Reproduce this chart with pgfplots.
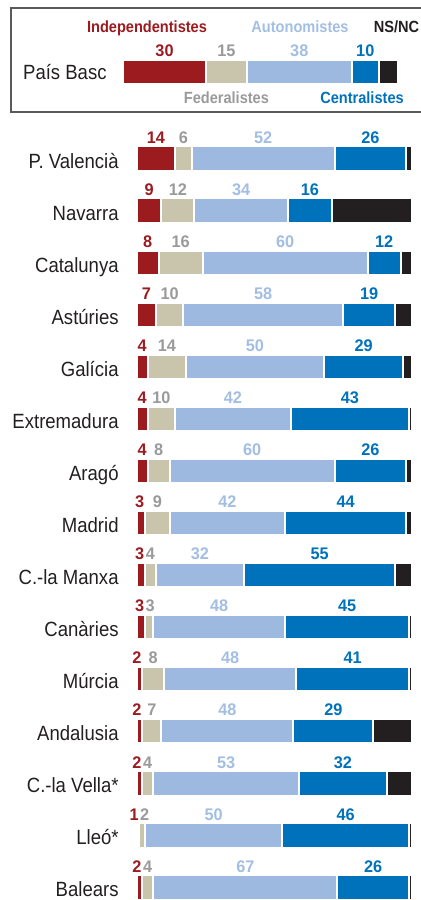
\documentclass[border=0pt]{standalone}
\usepackage{pgfplots}
\pgfplotsset{compat=1.18}
\usepackage{pgfplotstable}
\usepackage{fontspec}
\setmainfont{Liberation Sans}[FakeStretch=0.9]
\newfontfamily\numfont{Liberation Sans}[FakeStretch=0.97]

\definecolor{cInd}{HTML}{9B1B1F}
\definecolor{cFed}{HTML}{C8C5AC}
\definecolor{cAut}{HTML}{9DB9E0}
\definecolor{cCen}{HTML}{0072BC}
\definecolor{cNS}{HTML}{231F20}
\definecolor{tFed}{HTML}{9A9A9A}
\definecolor{tAut}{HTML}{A3BEE3}
\definecolor{tName}{HTML}{231F20}
\definecolor{boxc}{HTML}{5A5A5A}

\pgfplotstableread[col sep=comma]{
y,name,a,b,c,d,e
0,P. Valencià,14,6,52,26,2
-1,Navarra,9,12,34,16,29
-2,Catalunya,8,16,60,12,4
-3,Astúries,7,10,58,19,6
-4,Galícia,4,14,50,29,3
-5,Extremadura,4,10,42,43,1
-6,Aragó,4,8,60,26,2
-7,Madrid,3,9,42,44,2
-8,C.-la Manxa,3,4,32,55,6
-9,Canàries,3,3,48,45,1
-10,Múrcia,2,8,48,41,1
-11,Andalusia,2,7,48,29,14
-12,C.-la Vella*,2,4,53,32,9
-13,Lleó*,1,2,50,46,1
-14,Balears,2,4,67,26,1
}\main

\pgfplotstableread[col sep=comma]{
y,name,a,b,c,d,e
0,País Basc,30,15,38,10,7
}\basc

\pgfplotsset{
  mainframe/.style={at={(0pt,0pt)}, anchor=south west, x=1.375pt, y=26.025pt,
    xmin=-49.709, xmax=103.382, ymin=-14.2421, ymax=3.0490, hide axis},
  bascframe/.style={at={(0pt,0pt)}, anchor=south west, x=1.375pt, y=26.025pt,
    xmin=-44.836, xmax=108.255, ymin=-15.9135, ymax=1.37752, hide axis},
  seg/.style={fill=#1, draw=white, line width=1pt},
  lab/.style={draw=none, mark=none, nodes near coords style={text=#1}},
  numlabels/.style={nodes near coords, point meta=explicit symbolic,
    nodes near coords style={anchor=base, inner sep=0pt,
      font=\numfont\bfseries\fontsize{8.4}{9}\selectfont}},
}

\begin{document}
\begin{tikzpicture}
% main bars
\begin{axis}[mainframe, xbar stacked, bar width=12.25pt, enlargelimits=false]
\addplot[seg=cInd] table[x=a, y=y]{\main};
\addplot[seg=cFed] table[x=b, y=y]{\main};
\addplot[seg=cAut] table[x=c, y=y]{\main};
\addplot[seg=cCen] table[x=d, y=y]{\main};
\addplot[seg=cNS] table[x=e, y=y]{\main};
\end{axis}
% main labels
\begin{axis}[mainframe, enlargelimits=false, numlabels]
\addplot[lab=cInd] table[x expr={min(\thisrow{a}/2,\thisrow{a}-1.9)}, y expr=\thisrow{y}+0.293, meta=a]{\main};
\addplot[lab=tFed] table[x expr={max(\thisrow{a}+\thisrow{b}/2,\thisrow{a}+1.9)}, y expr=\thisrow{y}+0.293, meta=b]{\main};
\addplot[lab=tAut] table[x expr=\thisrow{a}+\thisrow{b}+\thisrow{c}/2, y expr=\thisrow{y}+0.293, meta=c]{\main};
\addplot[lab=cCen] table[x expr=\thisrow{a}+\thisrow{b}+\thisrow{c}+\thisrow{d}/2, y expr=\thisrow{y}+0.293, meta=d]{\main};
\addplot[draw=none, mark=none, nodes near coords style={anchor=base east, text=tName,
   font=\fontsize{10.3}{12}\selectfont}] table[x expr=-6.436, y expr=\thisrow{y}-0.179, meta=name]{\main};
\end{axis}
% Pais Basc bar
\begin{axis}[bascframe, xbar stacked, bar width=12pt, enlargelimits=false]
\addplot[seg=cInd] table[x=a, y=y]{\basc};
\addplot[seg=cFed] table[x=b, y=y]{\basc};
\addplot[seg=cAut] table[x=c, y=y]{\basc};
\addplot[seg=cCen] table[x=d, y=y]{\basc};
\addplot[seg=cNS] table[x=e, y=y]{\basc};
\end{axis}
\begin{axis}[bascframe, enlargelimits=false, numlabels]
\addplot[lab=cInd] table[x expr=\thisrow{a}/2, y expr=\thisrow{y}+0.29, meta=a]{\basc};
\addplot[lab=tFed] table[x expr=\thisrow{a}+\thisrow{b}/2, y expr=\thisrow{y}+0.29, meta=b]{\basc};
\addplot[lab=tAut] table[x expr=\thisrow{a}+\thisrow{b}+\thisrow{c}/2, y expr=\thisrow{y}+0.29, meta=c]{\basc};
\addplot[lab=cCen] table[x expr=\thisrow{a}+\thisrow{b}+\thisrow{c}+\thisrow{d}/2, y expr=\thisrow{y}+0.29, meta=d]{\basc};
\addplot[draw=none, mark=none, nodes near coords style={anchor=base east, text=tName,
   font=\fontsize{10.3}{12}\selectfont}] table[x expr=-5.927, y expr=\thisrow{y}-0.1595, meta=name]{\basc};
\end{axis}
% legend box and series names
\draw[boxc, line width=0.8pt] (5.35pt,394pt) rectangle (240pt,446pt);
\begin{scope}[every node/.style={inner sep=0pt, font=\bfseries\fontsize{8.1}{9}\selectfont}]
\node[anchor=base, text=cInd] at (73.5pt,433.85pt) {Independentistes};
\node[anchor=base, text=tAut] at (150pt,433.85pt) {Autonomistes};
\node[anchor=base west, text=cNS] at (186.7pt,433.85pt) {NS/NC};
\node[anchor=base, text=tFed] at (113.2pt,398.35pt) {Federalistes};
\node[anchor=base, text=cCen] at (181pt,398.35pt) {Centralistes};
\end{scope}
\pgfresetboundingbox
\useasboundingbox (0pt,0pt) rectangle (210.5pt,450pt);
\end{tikzpicture}
\end{document}
